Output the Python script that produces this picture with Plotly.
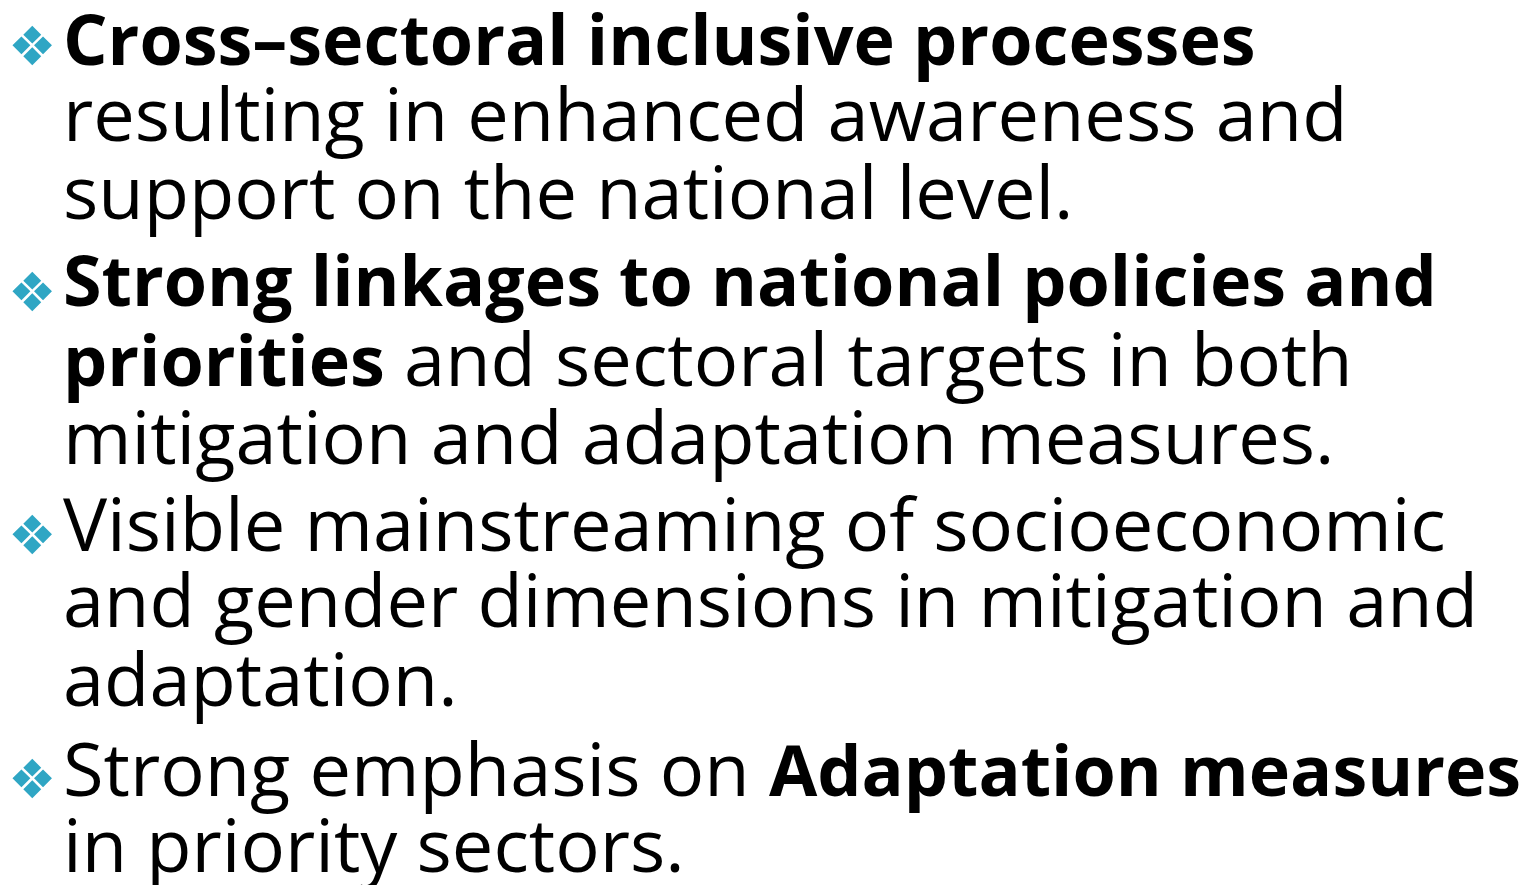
import plotly.graph_objects as go

# Slide content: each bullet is a list of lines (bold parts marked with ** **)
bullet_1 = ["**Cross–sectoral inclusive processes**",
            "resulting in enhanced awareness and",
            "support on the national level."]
bullet_2 = ["**Strong linkages to national policies and**",
            "**priorities** and sectoral targets in both",
            "mitigation and adaptation measures."]
bullet_3 = ["Visible mainstreaming of socioeconomic",
            "and gender dimensions in mitigation and",
            "adaptation."]
bullet_4 = ["Strong emphasis on **Adaptation measures**",
            "in priority sectors."]
bullets = [bullet_1, bullet_2, bullet_3, bullet_4]

W, H = 1532, 885
FONT = "Open Sans"
SIZE = 74
BOLD_SIZE = 70
BULLET_COLOR = "#2fa6c4"

# baselines in pixels from top (measured)
baselines = [[67, 142, 220], [308, 387, 465], [552, 628, 707], [797, 873]]
bullet_centers = [46, 291, 534, 778]

# empirical render offsets
DX, DY_TEXT, DY_BUL = -9, -13, -7


def fmt(line):
    parts = line.split("**")
    out = ""
    for i, p in enumerate(parts):
        if not p:
            continue
        if i % 2 == 1:
            out += f"<span style='font-size:{BOLD_SIZE}px'><b>{p}</b></span>"
        else:
            out += p
    return out


annotations = []
for para, bl, bc in zip(bullets, baselines, bullet_centers):
    annotations.append(dict(
        text="❖", x=(32 + DX + 1) / W, y=1 - (bc + DY_BUL) / H, xref="paper", yref="paper",
        xanchor="center", yanchor="middle", showarrow=False,
        font=dict(family="DejaVu Sans", size=54, color=BULLET_COLOR)))
    for line, b in zip(para, bl):
        annotations.append(dict(
            text=fmt(line), x=(62 + DX) / W, y=1 - (b + DY_TEXT - 0.33 * SIZE) / H,
            xref="paper", yref="paper", xanchor="left", yanchor="middle",
            showarrow=False, font=dict(family=FONT, size=SIZE, color="#000000")))

fig = go.Figure()
fig.update_layout(
    width=W, height=H, margin=dict(l=0, r=0, t=0, b=0),
    paper_bgcolor="white", plot_bgcolor="white",
    xaxis=dict(visible=False, range=[0, 1]),
    yaxis=dict(visible=False, range=[0, 1]),
    annotations=annotations, showlegend=False)
fig.write_html("out.html")
